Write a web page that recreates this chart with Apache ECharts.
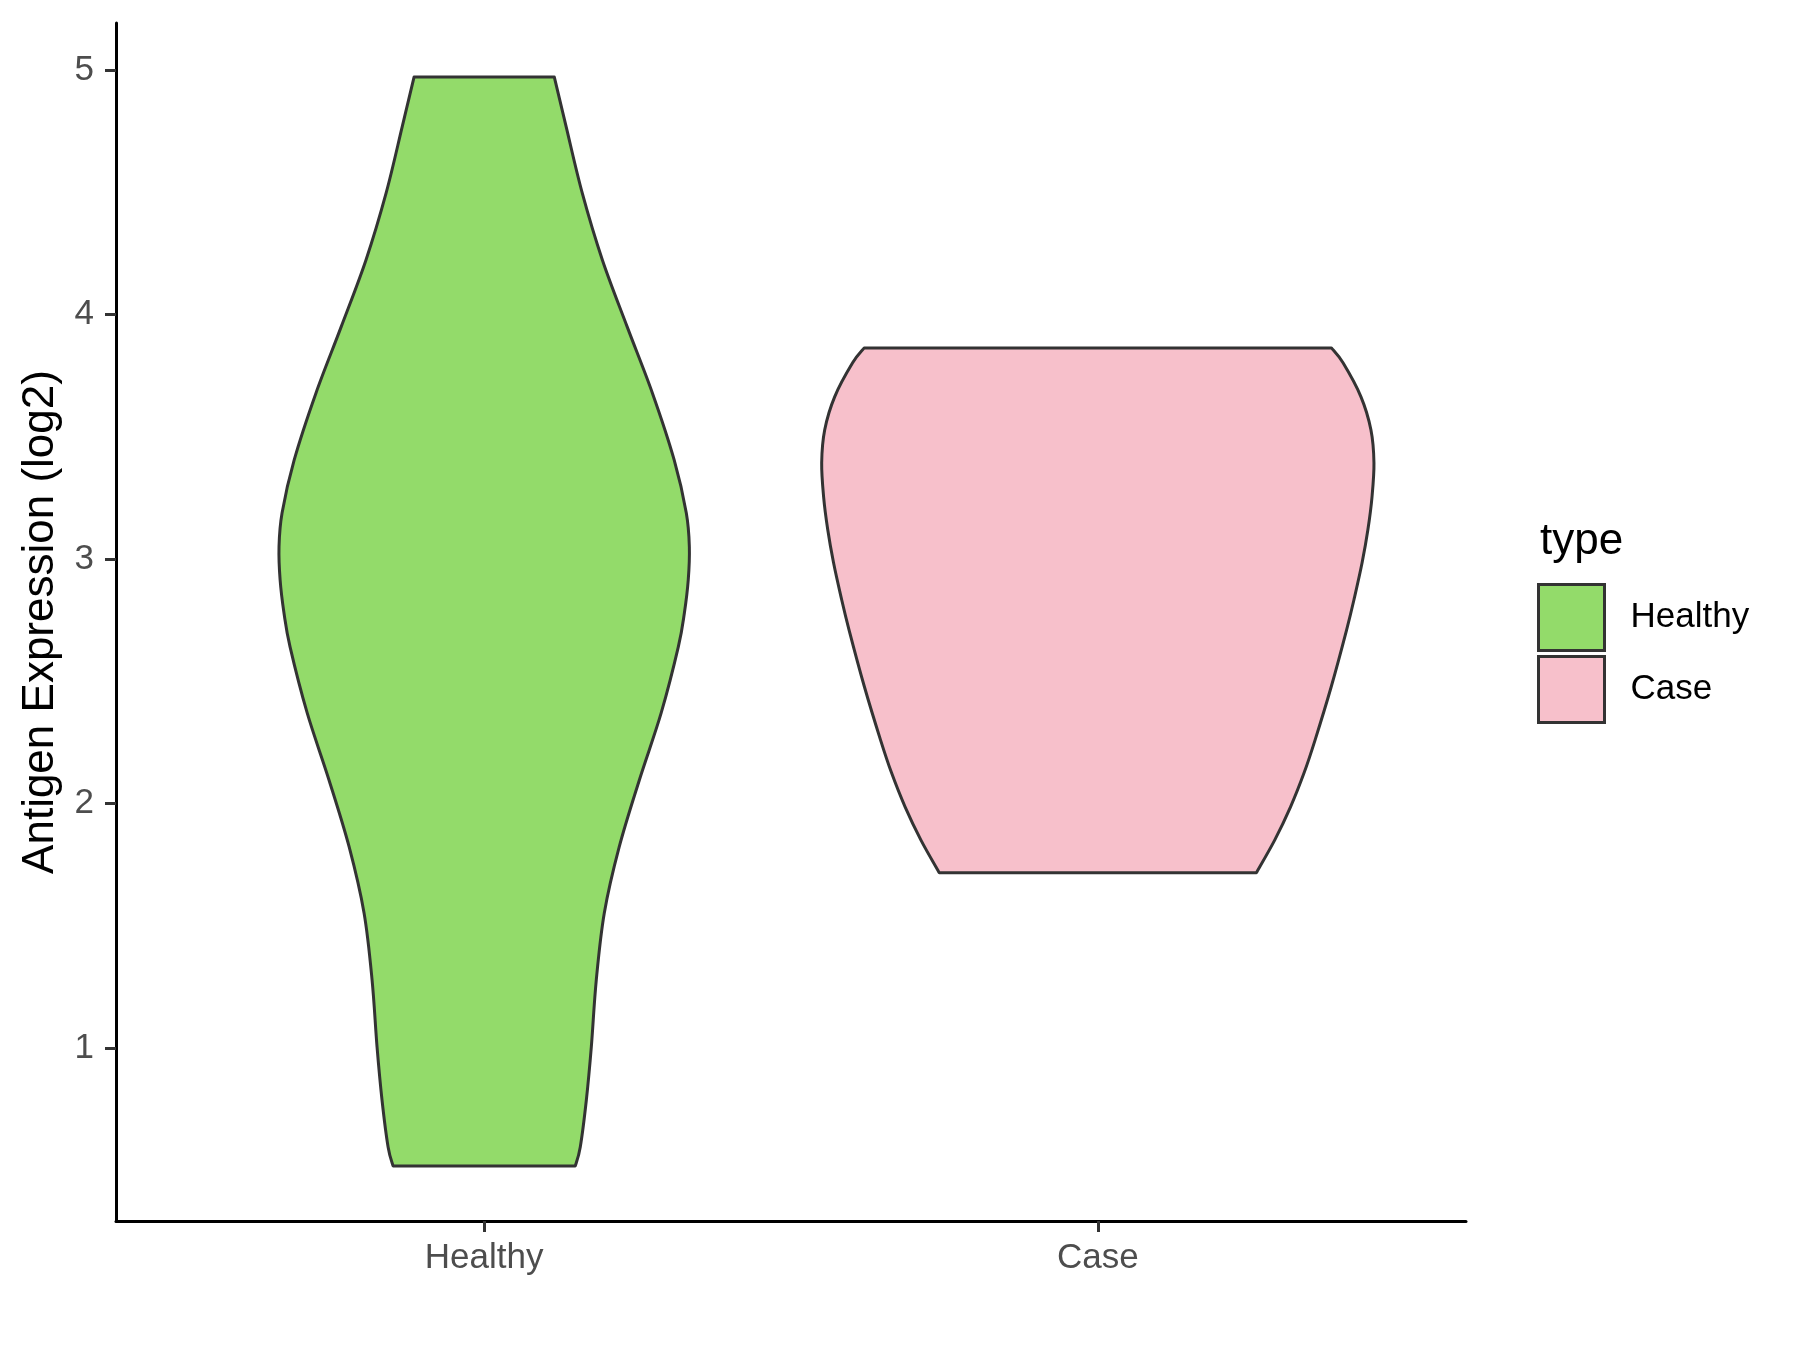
<!DOCTYPE html>
<html>
<head>
<meta charset="utf-8">
<script src="https://cdn.jsdelivr.net/npm/echarts@6/dist/echarts.min.js"></script>
<style>
html,body{margin:0;padding:0;background:#fff;}
#chart{width:1800px;height:1350px;}
</style>
</head>
<body>
<div id="chart"></div>
<script>
// ---- data ----
const categories = ['Healthy', 'Case'];
const yTicks = [1, 2, 3, 4, 5];
// violin outlines: expression values (top to bottom) and relative half-widths (density)
const healthyY = [4.971, 4.767, 4.497, 4.223, 3.949, 3.679, 3.405, 3.188, 3.049, 2.914, 2.779, 2.640, 2.370, 2.096, 1.822, 1.552, 1.278, 1.004, 0.787, 0.595, 0.517];
const healthyW = [0.254, 0.297, 0.355, 0.428, 0.518, 0.609, 0.688, 0.732, 0.743, 0.739, 0.725, 0.703, 0.641, 0.562, 0.489, 0.435, 0.406, 0.388, 0.370, 0.348, 0.330];
const caseY = [3.863, 3.802, 3.663, 3.528, 3.393, 3.254, 3.119, 2.984, 2.845, 2.710, 2.476, 2.260, 2.125, 1.986, 1.851, 1.716];
const caseW = [0.846, 0.888, 0.953, 0.989, 1.000, 0.993, 0.978, 0.957, 0.930, 0.901, 0.845, 0.787, 0.747, 0.698, 0.641, 0.574];
const colors = ['#93DB6A', '#F7C0CB'];

const profiles = [
  {ys: healthyY, ws: healthyW},
  {ys: caseY, ws: caseW}
];
const HALF = 0.45; // half of 0.9 band width

function bezierThrough(pts) {
  // Catmull-Rom -> cubic bezier segments (excluding moveTo)
  let d = '';
  for (let i = 0; i < pts.length - 1; i++) {
    const p0 = pts[i - 1] || pts[i];
    const p1 = pts[i];
    const p2 = pts[i + 1];
    const p3 = pts[i + 2] || p2;
    const c1 = [p1[0] + (p2[0] - p0[0]) / 6, p1[1] + (p2[1] - p0[1]) / 6];
    const c2 = [p2[0] - (p3[0] - p1[0]) / 6, p2[1] - (p3[1] - p1[1]) / 6];
    d += ' C' + c1[0] + ' ' + c1[1] + ' ' + c2[0] + ' ' + c2[1] + ' ' + p2[0] + ' ' + p2[1];
  }
  return d;
}

function makeRender(gi) {
  return function (params, api) {
    const x = api.value(0);
    const pr = profiles[gi];
    const left = pr.ys.map((v, i) => api.coord([x - pr.ws[i] * HALF, v]));
    const right = pr.ys.map((v, i) => api.coord([x + pr.ws[i] * HALF, v])).reverse();
    let d = 'M' + left[0][0] + ' ' + left[0][1];
    d += bezierThrough(left);
    d += ' L' + right[0][0] + ' ' + right[0][1];
    d += bezierThrough(right);
    d += ' Z';
    return {
      type: 'path',
      shape: {pathData: d},
      style: {fill: colors[gi], stroke: '#333333', lineWidth: 3, lineJoin: 'round'}
    };
  };
}

const chart = echarts.init(document.getElementById('chart'), null, {renderer: 'canvas'});
const FONT = '"Liberation Sans", Arial, Helvetica, sans-serif';

chart.setOption({
  backgroundColor: '#ffffff',
  animation: false,
  title: [{
    text: 'type',
    left: 1535,
    top: 515,
    textStyle: {fontFamily: FONT, fontSize: 44, fontWeight: 'normal', color: '#000'}
  }],
  legend: {
    orient: 'vertical',
    left: 1537,
    top: 583,
    padding: 0,
    itemGap: 3,
    itemWidth: 66,
    itemHeight: 66,
    icon: 'rect',
    data: categories,
    itemStyle: {borderColor: '#333333', borderWidth: 3},
    textStyle: {fontFamily: FONT, fontSize: 35, color: '#000', padding: [0, 0, 0, 21]}
  },
  grid: {left: 116, right: 334, top: 23, bottom: 129, containLabel: false, outerBoundsMode: 'none'},
  xAxis: {
    type: 'value',
    min: 0.4,
    max: 2.6,
    splitLine: {show: false},
    axisLine: {show: true, onZero: false, lineStyle: {color: '#000', width: 3}},
    axisTick: {show: true, customValues: [1, 2], length: 11, lineStyle: {color: '#333', width: 3}},
    axisLabel: {
      customValues: [1, 2],
      formatter: v => categories[Math.round(v) - 1],
      fontFamily: FONT, fontSize: 35, color: '#4D4D4D', margin: 20
    }
  },
  yAxis: {
    type: 'value',
    min: 0.292,
    max: 5.192,
    name: 'Antigen Expression (log2)',
    nameLocation: 'middle',
    nameGap: 53,
    nameTextStyle: {fontFamily: FONT, fontSize: 44, color: '#000'},
    splitLine: {show: false},
    axisLine: {show: true, onZero: false, lineStyle: {color: '#000', width: 3}},
    axisTick: {show: true, customValues: yTicks, length: 11, lineStyle: {color: '#333', width: 3}},
    axisLabel: {customValues: yTicks, fontFamily: FONT, fontSize: 35, color: '#4D4D4D', margin: 22}
  },
  series: categories.map((name, gi) => ({
    type: 'custom',
    name: name,
    renderItem: makeRender(gi),
    itemStyle: {color: colors[gi], borderColor: '#333333', borderWidth: 3},
    data: [[gi + 1, 3]],
    clip: false
  }))
});
</script>
</body>
</html>
